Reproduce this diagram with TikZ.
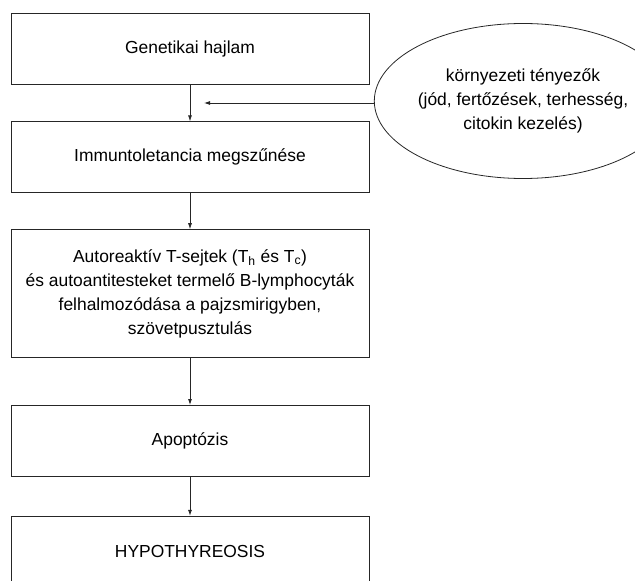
\documentclass[tikz,border=0pt]{standalone}
\usepackage{fontspec}
\setmainfont{Liberation Sans}
\usetikzlibrary{shapes.geometric, arrows.meta, positioning}

\begin{document}
\begin{tikzpicture}[x=1bp, y=1bp]
    \tikzset{
        stage/.style = {rectangle, draw=black!85, line width=0.8bp, minimum width=358bp, minimum height=71bp, inner sep=0pt, align=center, font=\fontsize{17.5}{24}\selectfont},
        factor/.style = {ellipse, draw=black!85, line width=0.8bp, minimum width=236bp, minimum height=155bp, inner sep=0pt, align=center, font=\fontsize{17.5}{24}\selectfont},
        line/.style = {draw=black!85, line width=0.8bp, -{Latex[length=6bp, width=4bp]}}
    }

    \useasboundingbox (0,0) rectangle (635,-581);
    \clip (0,0) rectangle (635,-581);

    \node[stage](s_1) at (190,-48.5){Genetikai hajlam};
    \node[stage](s_2)[below = 37bp of s_1]{Immuntoletancia megszűnése};
    \node[stage, minimum height=128bp](s_3)[below = 36bp of s_2]{Autoreaktív T-sejtek (T\textsubscript{h} és T\textsubscript{c})\\és autoantitesteket termelő B-lymphocyták\\felhalmozódása a pajzsmirigyben,\\szövetpusztulás};
    \node[stage](s_4)[below = 47bp of s_3]{Apoptózis};
    \node[stage](s_5)[below = 39bp of s_4]{HYPOTHYREOSIS};

    \node[factor](env) at (523,-101){környezeti tényezők\\(jód, fertőzések, terhesség,\\citokin kezelés)};
    \coordinate (join) at (204,-103);

    \path [line] (s_1) -- (s_2);
    \path [line] (s_2) -- (s_3);
    \path [line] (s_3) -- (s_4);
    \path [line] (s_4) -- (s_5);

    \path [line] (env.west |- join) -- (join);

\end{tikzpicture}
\end{document}
